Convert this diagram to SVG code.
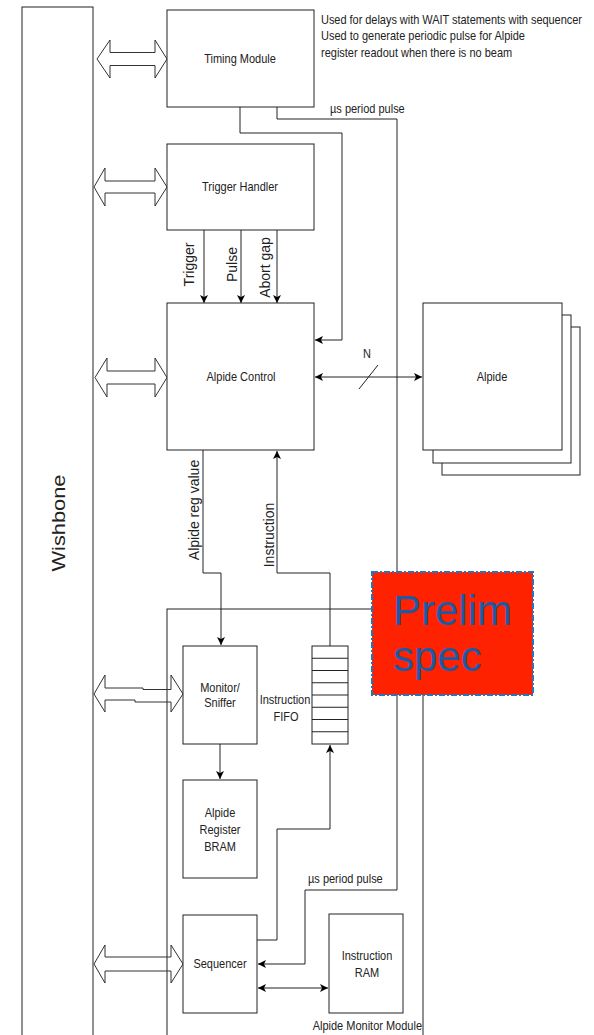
<svg xmlns="http://www.w3.org/2000/svg" width="594" height="1035" viewBox="0 0 594 1035">
<style>
.box{fill:#fff;stroke:#222;stroke-width:1}
.ln{fill:none;stroke:#222;stroke-width:1}
.blk{fill:none;stroke:#333;stroke-width:1}
.t{font-family:"Liberation Sans",Arial,sans-serif;font-size:11px;fill:#222}
.r{font-family:"Liberation Sans",Arial,sans-serif;font-size:14px;fill:#222}
.m{text-anchor:middle}
</style>
<defs>
<marker id="ah" viewBox="0 0 8 8" refX="8" refY="4" markerWidth="8" markerHeight="8" markerUnits="userSpaceOnUse" orient="auto-start-reverse">
<path d="M0,0 L8,4 L0,8 L2,4 z" fill="#000"/>
</marker>
</defs>
<rect width="594" height="1035" fill="#fff"/>

<g id="wishbone">
<rect x="22" y="7" width="71" height="1045" fill="#fff" stroke="#222"/>
<text class="r m" transform="translate(65,523) rotate(-90)" style="font-size:18px" textLength="97" lengthAdjust="spacingAndGlyphs">Wishbone</text>
</g>

<g id="monitor-module">
<rect x="167" y="609" width="256" height="440" fill="none" stroke="#222"/>
<text class="t" text-anchor="end" transform="translate(422,1030) scale(1,1.18)">Alpide Monitor Module</text>
</g>

<g id="connectors">
<path class="ln" d="M277,107 V119 H397 V890 H305 V964 H258" marker-end="url(#ah)"/>
<path class="ln" d="M240,107 V133 H342 V340 H315" marker-end="url(#ah)"/>
<path class="ln" d="M204,230 V303" marker-end="url(#ah)"/>
<path class="ln" d="M241,230 V303" marker-end="url(#ah)"/>
<path class="ln" d="M277,230 V303" marker-end="url(#ah)"/>
<path class="ln" d="M315,377 H422" marker-start="url(#ah)" marker-end="url(#ah)"/>
<path class="ln" d="M359,389 L378,365"/>
<path class="ln" d="M203,450 V573 H221 V645" marker-end="url(#ah)"/>
<path class="ln" d="M330,646 V573 H277 V451" marker-end="url(#ah)"/>
<path class="ln" d="M220,744 V779" marker-end="url(#ah)"/>
<path class="ln" d="M257,940 H277 V829 H330 V745" marker-end="url(#ah)"/>
<path class="ln" d="M258,988 H328" marker-start="url(#ah)" marker-end="url(#ah)"/>
<polygon class="blk" points="97,59 110,40 110,52.5 155,52.5 155,40 167,59 155,78 155,65.5 110,65.5 110,78"/>
<polygon class="blk" points="94,187 105,168 105,181 155,181 155,168 167,187 155,206 155,193 105,193 105,206"/>
<polygon class="blk" points="95,377.5 107,358 107,371 155,371 155,358 167,377.5 155,397 155,384 107,384 107,397"/>
<path class="blk" d="M94,694 L105,675 L105,688 L143,688 L143,689.5 L171,689.5 L171,675 L183,694 L171,712 L171,702 L135,702 L135,700 L105,700 L105,712 Z"/>
<polygon class="blk" points="94,964 105,945 105,957 171,957 171,945 183,964 171,983 171,971 105,971 105,983"/>
<text class="t" transform="translate(330,113) scale(1,1.18)">µs period pulse</text>
<text class="t" transform="translate(308,883) scale(1,1.18)">µs period pulse</text>
<text class="t m" transform="translate(367,358) scale(1,1.18)">N</text>
<text class="r m" transform="translate(194,264.5) rotate(-90)">Trigger</text>
<text class="r m" transform="translate(237,264.5) rotate(-90)">Pulse</text>
<text class="r m" transform="translate(270,267.5) rotate(-90)">Abort gap</text>
<text class="r m" transform="translate(198.5,510) rotate(-90)">Alpide reg value</text>
<text class="r m" transform="translate(274,535) rotate(-90)">Instruction</text>
</g>

<g id="timing-module">
<rect class="box" x="167" y="10" width="147" height="97"/>
<text class="t m" transform="translate(240,63) scale(1,1.18)">Timing Module</text>
</g>

<g id="timing-note">
<text class="t" transform="translate(321,23.5) scale(1,1.18)" textLength="261">Used for delays with WAIT statements with sequencer</text>
<text class="t" transform="translate(321,40) scale(1,1.18)">Used to generate periodic pulse for Alpide</text>
<text class="t" transform="translate(321,57) scale(1,1.18)">register readout when there is no beam</text>
</g>

<g id="trigger-handler">
<rect class="box" x="167" y="144" width="147" height="86"/>
<text class="t m" transform="translate(240,191) scale(1,1.18)">Trigger Handler</text>
</g>

<g id="alpide-control">
<rect class="box" x="167" y="303" width="147" height="147"/>
<text class="t m" transform="translate(241,381) scale(1,1.18)">Alpide Control</text>
</g>

<g id="alpide">
<rect class="box" x="442" y="327" width="138" height="148"/>
<rect class="box" x="433" y="315" width="138" height="148"/>
<rect class="box" x="423" y="303" width="139" height="147"/>
<text class="t m" transform="translate(492,381) scale(1,1.18)">Alpide</text>
</g>

<g id="monitor-sniffer">
<rect class="box" x="183" y="646" width="74" height="98"/>
<text class="t m" transform="translate(220,692) scale(1,1.18)">Monitor/</text>
<text class="t m" transform="translate(220,707) scale(1,1.18)">Sniffer</text>
</g>

<g id="instruction-fifo">
<rect class="box" x="312" y="646" width="36" height="98"/>
<path class="ln" d="M312,658.25 H348 M312,670.5 H348 M312,682.75 H348 M312,695 H348 M312,707.25 H348 M312,719.5 H348 M312,731.75 H348"/>
<text class="t m" transform="translate(285,704) scale(1,1.18)">Instruction</text>
<text class="t m" transform="translate(286,721) scale(1,1.18)">FIFO</text>
</g>

<g id="register-bram">
<rect class="box" x="183" y="780" width="74" height="98"/>
<text class="t m" transform="translate(220,817) scale(1,1.18)">Alpide</text>
<text class="t m" transform="translate(220,834) scale(1,1.18)">Register</text>
<text class="t m" transform="translate(220,851) scale(1,1.18)">BRAM</text>
</g>

<g id="sequencer">
<rect class="box" x="183" y="915" width="74" height="98"/>
<text class="t m" transform="translate(220,968) scale(1,1.18)">Sequencer</text>
</g>

<g id="instruction-ram">
<rect class="box" x="329" y="914" width="74" height="99"/>
<text class="t m" transform="translate(367,960) scale(1,1.18)">Instruction</text>
<text class="t m" transform="translate(367,977) scale(1,1.18)">RAM</text>
</g>

<g id="prelim-spec">
<rect x="372" y="572" width="161" height="123" fill="#ff2200" stroke="#1f77c4" stroke-width="2" stroke-dasharray="6 2 2 2"/>
<text x="393" y="625" style="font-family:'Liberation Sans',Arial,sans-serif;font-size:42px;fill:#1a5aa6">Prelim</text>
<text x="393" y="671" style="font-family:'Liberation Sans',Arial,sans-serif;font-size:42px;fill:#1a5aa6">spec</text>
</g>
</svg>
